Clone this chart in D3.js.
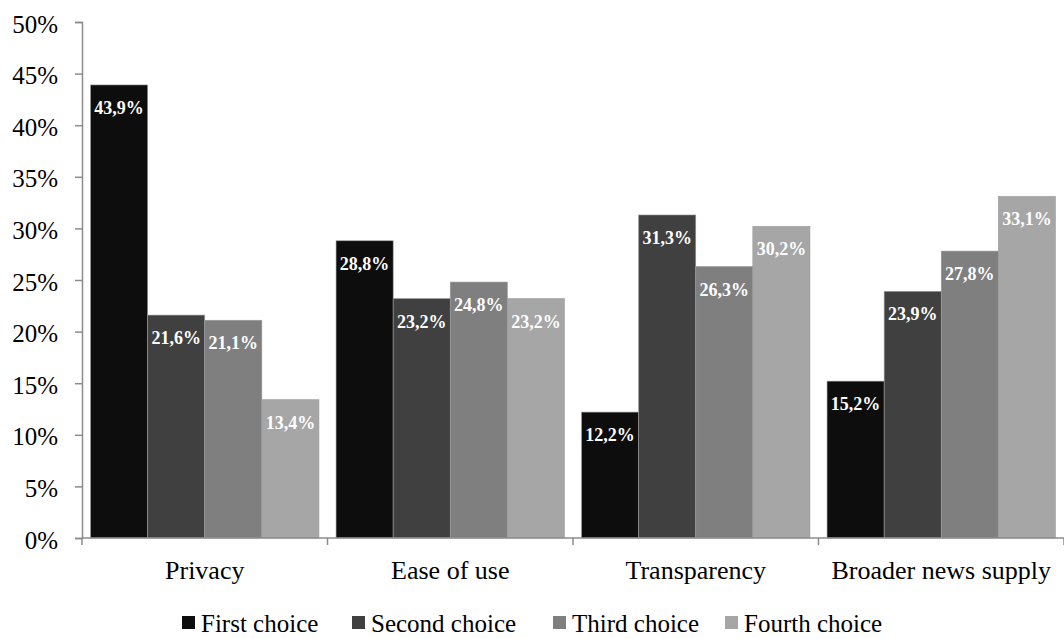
<!DOCTYPE html>
<html>
<head>
<meta charset="utf-8">
<script src="https://cdn.jsdelivr.net/npm/d3@7"></script>
</head>
<body style="margin:0">
<div id="chart"></div>
<script>
const categories = ["Privacy", "Ease of use", "Transparency", "Broader news supply"];
const seriesNames = ["First choice", "Second choice", "Third choice", "Fourth choice"];
const firstChoice = [43.9, 28.8, 12.2, 15.2];
const secondChoice = [21.6, 23.2, 31.3, 23.9];
const thirdChoice = [21.1, 24.8, 26.3, 27.8];
const fourthChoice = [13.4, 23.2, 30.2, 33.1];
const yTicks = [0, 5, 10, 15, 20, 25, 30, 35, 40, 45, 50];
const colors = ["#0d0d0d", "#404040", "#7f7f7f", "#a6a6a6"];

const series = [firstChoice, secondChoice, thirdChoice, fourthChoice];
const serif = "Liberation Serif";

const width = 1064, height = 639;
const margin = {top: 22, right: 0, bottom: 101, left: 82};

const svg = d3.select("#chart").append("svg")
    .attr("width", width)
    .attr("height", height)
    .attr("font-family", serif)
    .style("font-family", serif);

const x0 = d3.scaleBand()
    .domain(categories)
    .range([margin.left, width - margin.right])
    .paddingInner(0)
    .paddingOuter(0);

const x1 = d3.scaleBand()
    .domain(d3.range(seriesNames.length))
    .range([0, x0.bandwidth()])
    .paddingInner(0)
    .paddingOuter(0.15);

const y = d3.scaleLinear()
    .domain([0, 50])
    .range([height - margin.bottom, margin.top]);

// y axis
const yAxis = svg.append("g")
    .attr("transform", `translate(${margin.left},0)`)
    .call(d3.axisLeft(y).tickValues(yTicks).tickSize(7).tickPadding(17).tickFormat(d => d + "%"))
    .attr("font-family", serif);
yAxis.selectAll("line, path").attr("stroke", "#8c8c8c").attr("stroke-width", 1.5);
yAxis.selectAll("text")
    .attr("font-family", serif)
    .style("font-family", serif)
    .attr("font-size", 25)
    .attr("fill", "#000")
    .attr("dy", "0.4em");

// bars
const groups = svg.append("g").selectAll("g")
    .data(categories)
    .join("g")
    .attr("transform", d => `translate(${x0(d)},0)`);

groups.selectAll("rect")
    .data((c, i) => series.map((s, k) => ({k, v: s[i]})))
    .join("rect")
    .attr("x", d => x1(d.k))
    .attr("y", d => y(d.v))
    .attr("width", x1.bandwidth())
    .attr("height", d => y(0) - y(d.v))
    .attr("fill", d => colors[d.k])
    .attr("stroke", "#9a9a9a")
    .attr("stroke-width", 0.6);

groups.selectAll("text")
    .data((c, i) => series.map((s, k) => ({k, v: s[i]})))
    .join("text")
    .attr("x", d => x1(d.k) + x1.bandwidth() / 2)
    .attr("y", d => y(d.v) + 29)
    .attr("text-anchor", "middle")
    .attr("fill", "#fff")
    .attr("font-weight", "bold")
    .attr("font-size", 18)
    .attr("font-family", serif)
    .style("font-family", serif)
    .text(d => d.v.toFixed(1).replace(".", ",") + "%");

// x axis
const xAxis = svg.append("g");
xAxis.append("line")
    .attr("x1", margin.left).attr("x2", width)
    .attr("y1", y(0)).attr("y2", y(0))
    .attr("stroke", "#8c8c8c").attr("stroke-width", 1.5);
xAxis.selectAll(".tick")
    .data(categories.map(c => x0(c)).concat([x0(categories[categories.length - 1]) + x0.bandwidth()]))
    .join("line")
    .attr("x1", d => d).attr("x2", d => d)
    .attr("y1", y(0)).attr("y2", y(0) + 7)
    .attr("stroke", "#8c8c8c").attr("stroke-width", 1.5);
xAxis.selectAll("text")
    .data(categories)
    .join("text")
    .attr("x", d => x0(d) + x0.bandwidth() / 2)
    .attr("y", y(0) + 41)
    .attr("text-anchor", "middle")
    .attr("font-size", 26)
    .attr("font-family", serif)
    .style("font-family", serif)
    .text(d => d);

// legend
const legendX = [182, 352, 553, 725];
const legend = svg.append("g").selectAll("g")
    .data(seriesNames)
    .join("g")
    .attr("transform", (d, i) => `translate(${legendX[i]},632)`);
legend.append("rect")
    .attr("x", 0).attr("y", -16)
    .attr("width", 13).attr("height", 13)
    .attr("fill", (d, i) => colors[i]);
legend.append("text")
    .attr("x", 19).attr("y", 0)
    .attr("font-size", 25)
    .attr("font-family", serif)
    .style("font-family", serif)
    .text(d => d);
</script>
</body>
</html>
